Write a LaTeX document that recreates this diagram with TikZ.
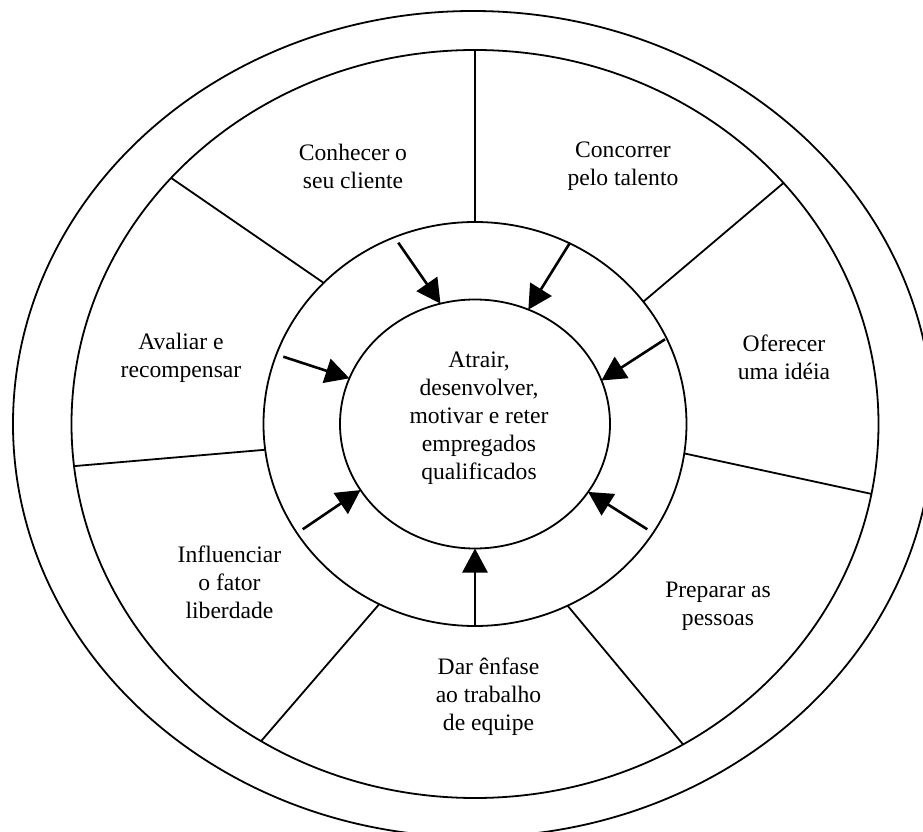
\documentclass[tikz,border=0pt]{standalone}
\usepackage{fontspec}
\setmainfont{Liberation Serif}
\usetikzlibrary{arrows.meta,shapes.geometric}

\begin{document}
\begin{tikzpicture}[
  x=1pt, y=1pt,
  every node/.style={font=\fontsize{23.6}{28}\selectfont},
  ring/.style ={draw, ellipse, line width=1.8pt, inner sep=0pt, outer sep=0pt},
  lbl/.style  ={align=center, inner sep=0pt},
  spoke/.style={line width=1.8pt},
  arr/.style  ={-{Triangle[length=24pt, width=25pt]}, line width=2.6pt}]

\useasboundingbox (-473,-408) rectangle (450,424);
\clip (-473,-408) rectangle (450,424);

%% four nested rings
\node[ring, minimum width=920pt, minimum height=826pt] (rim)  at (0,0) {};
\node[ring, minimum width=807pt, minimum height=748pt] (band) at (2,0) {};
\node[ring, minimum width=423pt, minimum height=404pt] (hub)  at (2,0) {};
\node[ring, minimum width=270pt, minimum height=249pt] (core) at (2,0) {};

%% spokes between hub and band
\draw[spoke] (hub.north) -- (band.north);
\draw[spoke] (hub.137.1) -- (band.141.9);
\draw[spoke] (hub.36)    -- (band.38.1);
\draw[spoke] (hub.187.7) -- (band.186.7);
\draw[spoke] (hub.352.4) -- (band.350.5);
\draw[spoke] (hub.242.1) -- (band.236.3);
\draw[spoke] (hub.297.8) -- (band.303.6);

%% texts
\node[lbl] (know)    at (-120,258)   {Conhecer o\\seu cliente};
\node[lbl] (talent)  at (150,258)    {Concorrer\\pelo talento};
\node[lbl] (reward)  at (-292,66.5)  {Avaliar e\\recompensar};
\node[lbl] (idea)    at (311,66.5)   {Oferecer\\uma idéia};
\node[lbl] (freedom) at (-243.5,-158) {Influenciar\\o fator\\liberdade};
\node[lbl] (people)  at (245,-182.6) {Preparar as\\pessoas};
\node[lbl] (team)    at (15.5,-273)  {Dar ênfase\\ao trabalho\\de equipe};
\node[lbl] (goal)    at (6,6)
      {Atrair,\\desenvolver,\\motivar e reter\\empregados\\qualificados};

%% arrows into the core
\coordinate (s1) at (-74.7,181.3);
\coordinate (s2) at (97,181.3);
\coordinate (s3) at (192,84.7);
\coordinate (s4) at (-189.7,67.3);
\coordinate (s5) at (-170.3,-105.3);
\coordinate (s6) at (174.3,-105.3);
\draw[arr] (s1) -- (core.106.9);
\draw[arr] (s2) -- (core.65.4);
\draw[arr] (s3) -- (core.19.9);
\draw[arr] (s4) -- (core.160.4);
\draw[arr] (s5) -- (core.210.3);
\draw[arr] (s6) -- (core.329.9);
\draw[arr] (hub.south) -- (core.south);
\end{tikzpicture}
\end{document}
